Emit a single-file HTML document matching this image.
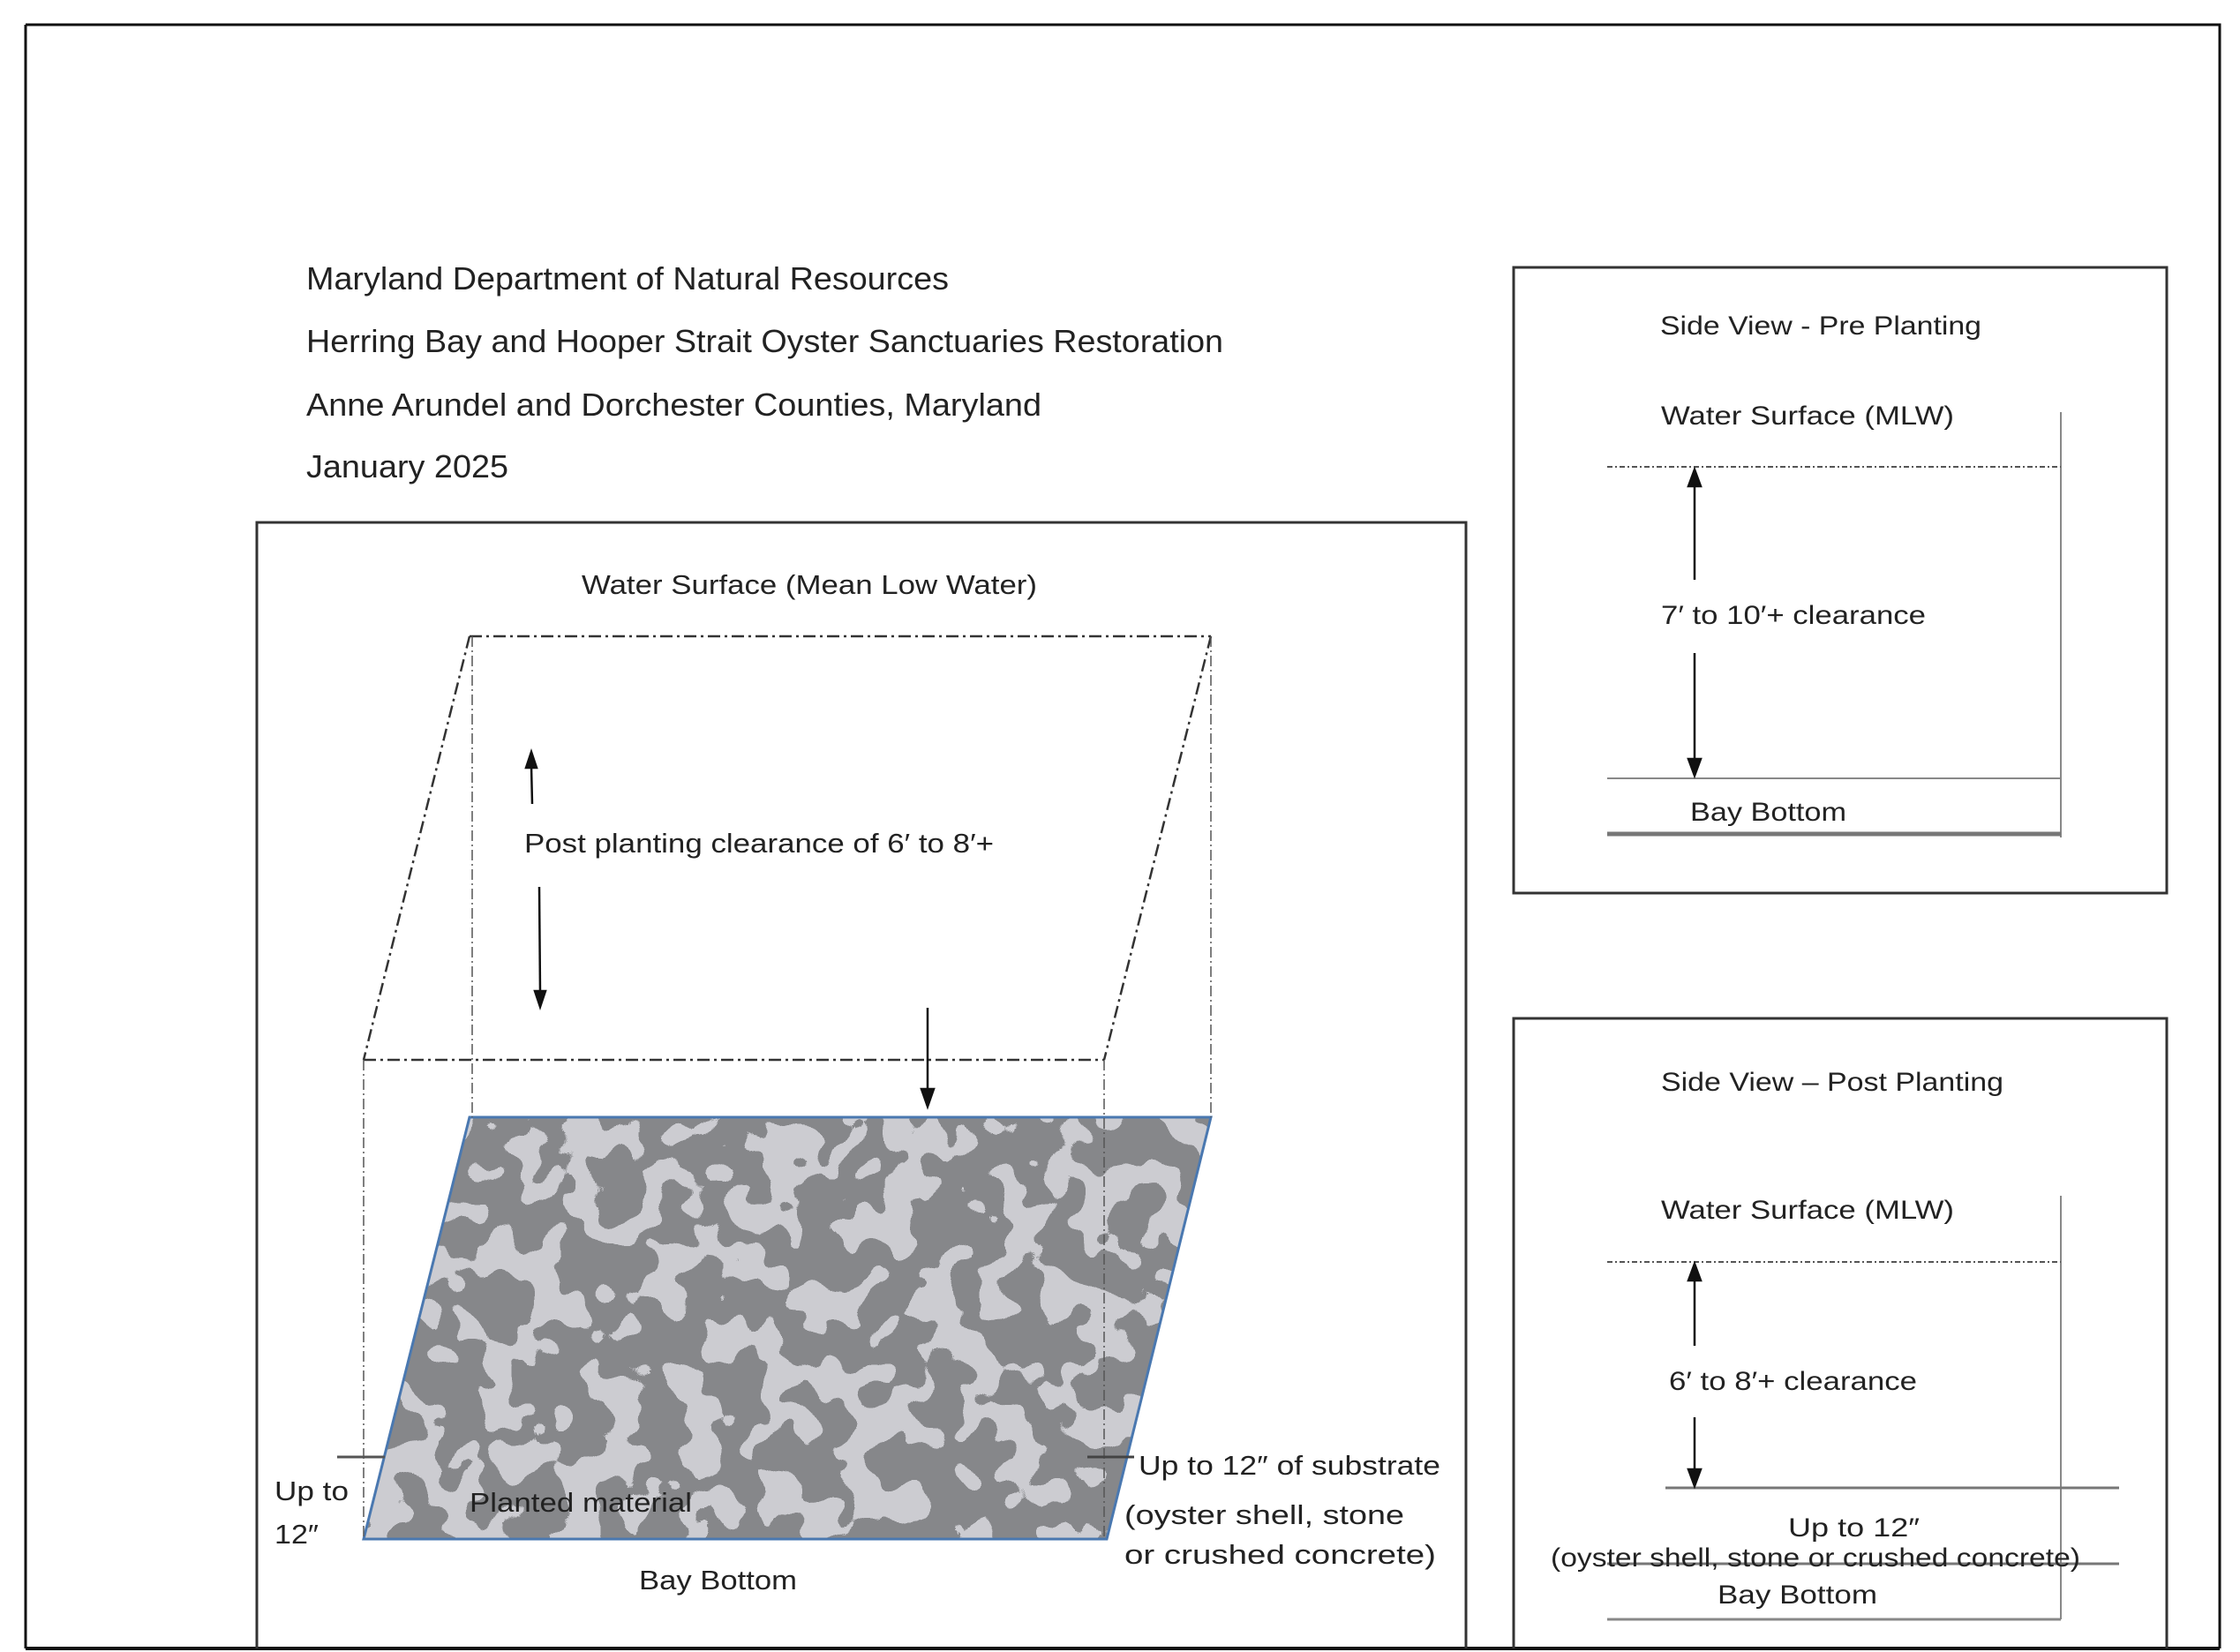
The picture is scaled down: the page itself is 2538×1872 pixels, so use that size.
<!DOCTYPE html>
<html><head><meta charset="utf-8"><style>
html,body{margin:0;padding:0;background:#fff;}
svg{display:block;}
text{font-family:"Liberation Sans",sans-serif;fill:#222;}
</style></head><body>
<svg width="2538" height="1872" viewBox="0 0 2538 1872" xmlns="http://www.w3.org/2000/svg">
<defs>
<filter id="camo" x="0" y="0" width="100%" height="100%" color-interpolation-filters="sRGB">
<feTurbulence type="fractalNoise" baseFrequency="0.022" numOctaves="2" seed="7" result="n"/>
<feColorMatrix in="n" type="matrix" values="0 0 0 0 0.80  0 0 0 0 0.80  0 0 0 0 0.82  5 0 0 0 -2.15"/>
<feComponentTransfer><feFuncA type="discrete" tableValues="0 1"/></feComponentTransfer>
</filter>
<clipPath id="para"><polygon points="532,1266 1372,1266 1254,1744 412,1744"/></clipPath>
</defs>
<path d="M29,28 H2515 V1868" fill="none" stroke="#111" stroke-width="3"/>
<path d="M29,28 V1868" stroke="#111" stroke-width="3"/>
<line x1="29" y1="1868" x2="2515" y2="1868" stroke="#111" stroke-width="4"/>
<g font-size="36">
<text x="347" y="328" textLength="728" lengthAdjust="spacingAndGlyphs">Maryland Department of Natural Resources</text>
<text x="347" y="399" textLength="1039" lengthAdjust="spacingAndGlyphs">Herring Bay and Hooper Strait Oyster Sanctuaries Restoration</text>
<text x="347" y="471" textLength="833" lengthAdjust="spacingAndGlyphs">Anne Arundel and Dorchester Counties, Maryland</text>
<text x="347" y="541" textLength="229" lengthAdjust="spacingAndGlyphs">January 2025</text>
</g>
<path d="M291,1868 V592 H1661 V1868" fill="none" stroke="#333" stroke-width="3"/>
<text x="659" y="673" font-size="31" textLength="516" lengthAdjust="spacingAndGlyphs">Water Surface (Mean Low Water)</text>
<g clip-path="url(#para)">
<rect x="400" y="1260" width="980" height="490" fill="#86878a"/>
<rect x="400" y="1260" width="980" height="490" fill="#fff" filter="url(#camo)"/>
</g>
<polygon points="532,1266 1372,1266 1254,1744 412,1744" fill="none" stroke="#4a78b0" stroke-width="3"/>
<g fill="none" stroke="#333" stroke-width="2.5" stroke-dasharray="14,5,3,5">
<line x1="532" y1="721" x2="1372" y2="721"/>
<line x1="532" y1="721" x2="412" y2="1201"/>
<line x1="1372" y1="721" x2="1251" y2="1201"/>
<line x1="412" y1="1201" x2="1251" y2="1201"/>
</g>
<g fill="none" stroke="#555" stroke-width="1.5" stroke-dasharray="12,4,2,4">
<line x1="535" y1="721" x2="535" y2="1266"/>
<line x1="1372" y1="721" x2="1372" y2="1266"/>
<line x1="412" y1="1201" x2="412" y2="1744"/>
<line x1="1251" y1="1201" x2="1251" y2="1744"/>
</g>
<g stroke="#111" stroke-width="2.5" fill="#111">
<line x1="603" y1="911" x2="602" y2="868"/><polygon points="602,852 596,870 608,870"/>
<line x1="611" y1="1005" x2="612" y2="1125"/><polygon points="612,1141 606,1123 618,1123"/>
<line x1="1051" y1="1142" x2="1051" y2="1237"/><polygon points="1051,1254 1044,1234 1058,1234"/>
</g>
<text x="594" y="966" font-size="31" textLength="532" lengthAdjust="spacingAndGlyphs">Post planting clearance of 6′ to 8′+</text>
<line x1="382" y1="1651" x2="436" y2="1651" stroke="#555" stroke-width="3"/>
<line x1="1232" y1="1651" x2="1285" y2="1651" stroke="#444" stroke-width="3"/>
<g font-size="31">
<text x="1290" y="1671" textLength="342" lengthAdjust="spacingAndGlyphs">Up to 12″ of substrate</text>
<text x="1274" y="1727" fill="#333" textLength="317" lengthAdjust="spacingAndGlyphs">(oyster shell, stone</text>
<text x="1274" y="1772" fill="#333" textLength="353" lengthAdjust="spacingAndGlyphs">or crushed concrete)</text>
<text x="311" y="1700" textLength="84" lengthAdjust="spacingAndGlyphs">Up to</text>
<text x="311" y="1749" textLength="50" lengthAdjust="spacingAndGlyphs">12″</text>
<text x="532" y="1713" fill="#111" textLength="252" lengthAdjust="spacingAndGlyphs">Planted material</text>
<text x="724" y="1801" textLength="179" lengthAdjust="spacingAndGlyphs">Bay Bottom</text>
</g>
<rect x="1715" y="303" width="740" height="709" fill="none" stroke="#333" stroke-width="3"/>
<line x1="2335" y1="467" x2="2335" y2="949" stroke="#888" stroke-width="2"/>
<line x1="1821" y1="529" x2="2335" y2="529" stroke="#555" stroke-width="2" stroke-dasharray="6,3,2,3"/>
<line x1="1821" y1="882" x2="2335" y2="882" stroke="#888" stroke-width="2"/>
<line x1="1821" y1="945" x2="2335" y2="945" stroke="#777" stroke-width="5"/>
<g stroke="#111" stroke-width="2.5" fill="#111">
<line x1="1920" y1="548" x2="1920" y2="657"/><polygon points="1920,532 1913,551 1927,551"/>
<line x1="1920" y1="740" x2="1920" y2="862"/><polygon points="1920,879 1913,860 1927,860"/>
</g>
<g font-size="30">
<text x="1881" y="379" textLength="364" lengthAdjust="spacingAndGlyphs">Side View - Pre Planting</text>
<text x="1882" y="481" textLength="332" lengthAdjust="spacingAndGlyphs">Water Surface (MLW)</text>
<text x="1882" y="707" textLength="300" lengthAdjust="spacingAndGlyphs">7′ to 10′+ clearance</text>
<text x="1915" y="930" textLength="177" lengthAdjust="spacingAndGlyphs">Bay Bottom</text>
</g>
<path d="M1715,1868 V1154 H2455 V1868" fill="none" stroke="#333" stroke-width="3"/>
<line x1="2335" y1="1355" x2="2335" y2="1835" stroke="#888" stroke-width="2"/>
<line x1="1821" y1="1430" x2="2335" y2="1430" stroke="#555" stroke-width="2" stroke-dasharray="6,3,2,3"/>
<line x1="1887" y1="1686" x2="2401" y2="1686" stroke="#777" stroke-width="3"/>
<line x1="1821" y1="1772" x2="2401" y2="1772" stroke="#777" stroke-width="3"/>
<line x1="1821" y1="1835" x2="2335" y2="1835" stroke="#888" stroke-width="3"/>
<g stroke="#111" stroke-width="2.5" fill="#111">
<line x1="1920" y1="1448" x2="1920" y2="1525"/><polygon points="1920,1432 1913,1451 1927,1451"/>
<line x1="1920" y1="1606" x2="1920" y2="1667"/><polygon points="1920,1684 1913,1665 1927,1665"/>
</g>
<g font-size="30">
<text x="1882" y="1236" textLength="388" lengthAdjust="spacingAndGlyphs">Side View – Post Planting</text>
<text x="1882" y="1381" textLength="332" lengthAdjust="spacingAndGlyphs">Water Surface (MLW)</text>
<text x="1891" y="1575" textLength="281" lengthAdjust="spacingAndGlyphs">6′ to 8′+ clearance</text>
<text x="2026" y="1741" textLength="149" lengthAdjust="spacingAndGlyphs">Up to 12″</text>
<text x="1757" y="1775" fill="#555" textLength="600" lengthAdjust="spacingAndGlyphs">(oyster shell, stone or crushed concrete)</text>
<text x="1946" y="1817" textLength="181" lengthAdjust="spacingAndGlyphs">Bay Bottom</text>
</g>
</svg>
</body></html>
